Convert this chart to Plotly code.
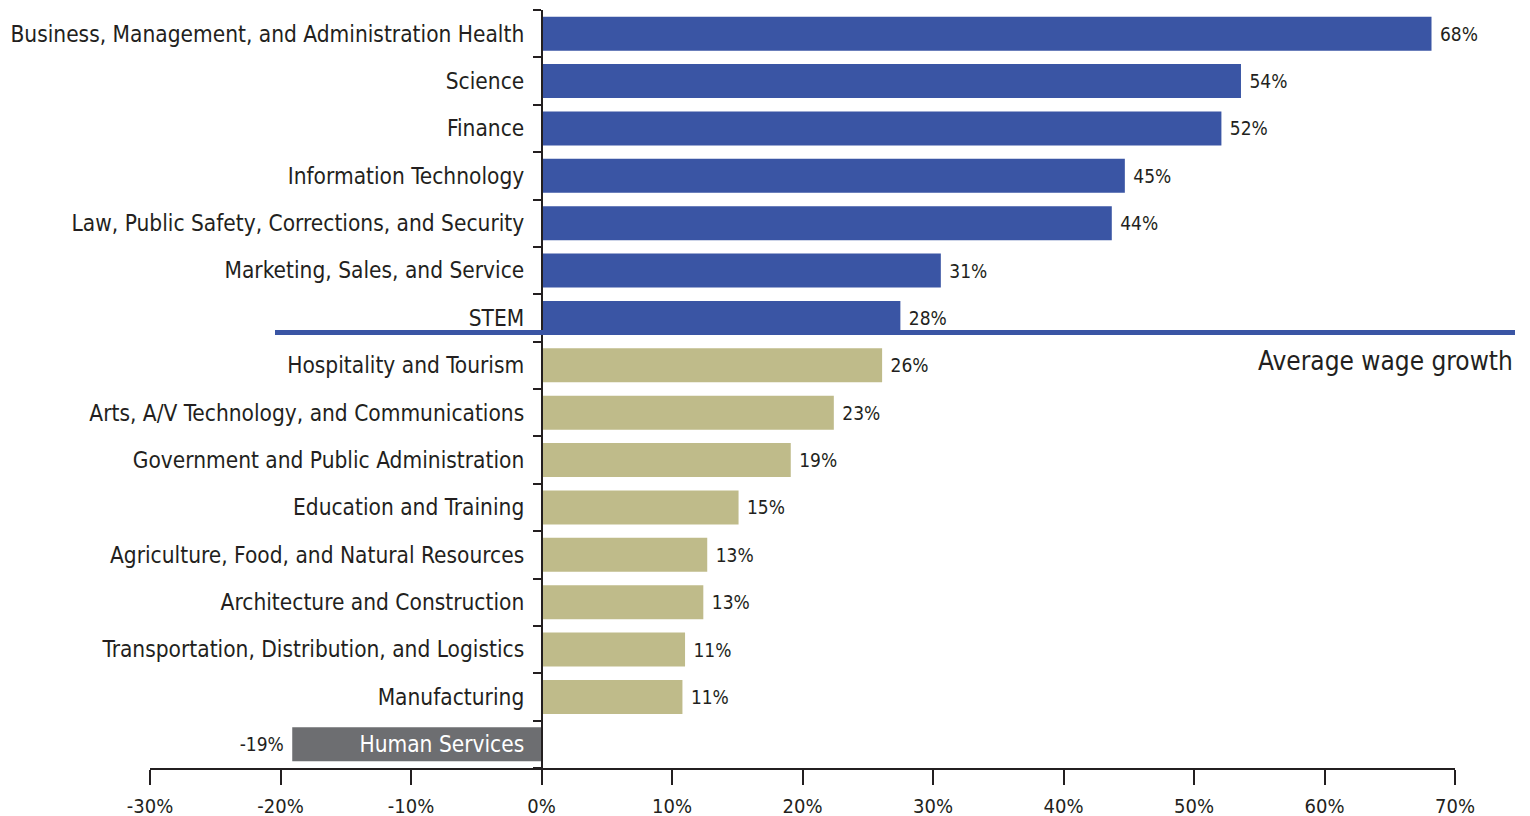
import plotly.graph_objects as go

categories = [
    "Business, Management, and Administration Health",
    "Science",
    "Finance",
    "Information Technology",
    "Law, Public Safety, Corrections, and Security",
    "Marketing, Sales, and Service",
    "STEM",
    "Hospitality and Tourism",
    "Arts, A/V Technology, and Communications",
    "Government and Public Administration",
    "Education and Training",
    "Agriculture, Food, and Natural Resources",
    "Architecture and Construction",
    "Transportation, Distribution, and Logistics",
    "Manufacturing",
    "Human Services",
]
values = [68.2, 53.6, 52.1, 44.7, 43.7, 30.6, 27.5, 26.1, 22.4, 19.1, 15.1, 12.7, 12.4, 11.0, 10.8, -19.1]
value_labels = ["68%", "54%", "52%", "45%", "44%", "31%", "28%", "26%", "23%", "19%",
                "15%", "13%", "13%", "11%", "11%", "-19%"]
groups = ["above"] * 7 + ["below"] * 8 + ["negative"]
group_colors = {"above": "#3A55A4", "below": "#BFBB8A", "negative": "#6D6E71"}
x_ticks = [-30, -20, -10, 0, 10, 20, 30, 40, 50, 60, 70]
x_tick_labels = [f"{v}%" for v in x_ticks]
average_label = "Average wage growth"

FONT = "DejaVu Sans Condensed, Liberation Sans, sans-serif"

tick_text = [
    (f'<span style="color:white">{c}</span>' if g == "negative" else c)
    for c, g in zip(categories, groups)
]
bar_text = [(" " + t if v >= 0 else t + " ") for t, v in zip(value_labels, values)]

# page body has an 8px offset; plot area spans x 150..1455, y 10..768 on screen
OFF = 8
L, R, T, B = 150 - OFF, 1530 - 1455 + OFF, 10 - OFF, 816 - 768 + OFF
PW = 1305

fig = go.Figure(
    go.Bar(
        x=values,
        y=categories,
        orientation="h",
        width=0.72,
        marker=dict(color=[group_colors[g] for g in groups], line=dict(width=0)),
        text=bar_text,
        textposition="outside",
        textfont=dict(family=FONT, size=19, color="#231F20"),
        cliponaxis=False,
        hoverinfo="skip",
    )
)

fig.update_layout(
    width=1530,
    height=816,
    margin=dict(l=L, r=R, t=T, b=B, autoexpand=False),
    paper_bgcolor="white",
    plot_bgcolor="white",
    showlegend=False,
    font=dict(family=FONT, color="#231F20"),
    xaxis=dict(
        range=[-30, 70],
        tickvals=x_ticks,
        ticktext=x_tick_labels,
        showgrid=False,
        zeroline=False,
        showline=True,
        linecolor="#231F20",
        linewidth=1.5,
        ticks="outside",
        ticklen=15,
        tickwidth=1.5,
        tickcolor="#231F20",
        ticklabelstandoff=4,
        tickfont=dict(family=FONT, size=20, color="#231F20"),
        automargin=False,
    ),
    yaxis=dict(
        type="category",
        categoryorder="array",
        categoryarray=categories,
        autorange="reversed",
        tickvals=categories,
        ticktext=tick_text,
        anchor="free",
        position=0.3,
        showgrid=False,
        zeroline=False,
        showline=True,
        linecolor="#231F20",
        linewidth=1.5,
        ticks="outside",
        tickson="boundaries",
        ticklen=8,
        tickwidth=1.5,
        tickcolor="#231F20",
        ticklabelstandoff=12,
        tickfont=dict(family=FONT, size=22.5, color="#231F20"),
        automargin=False,
    ),
    shapes=[
        dict(
            type="line",
            xref="paper",
            yref="y",
            x0=(275 - 150) / PW,
            x1=(1515 - 150) / PW,
            y0=6.31,
            y1=6.31,
            line=dict(color="#3A55A4", width=5),
            layer="above",
        )
    ],
    annotations=[
        dict(
            text=average_label,
            xref="paper",
            yref="y",
            x=(1515 - 150) / PW,
            y=6.9,
            xanchor="right",
            yanchor="middle",
            showarrow=False,
            font=dict(family=FONT, size=26, color="#231F20"),
        )
    ],
)

fig.write_html("out.html")
